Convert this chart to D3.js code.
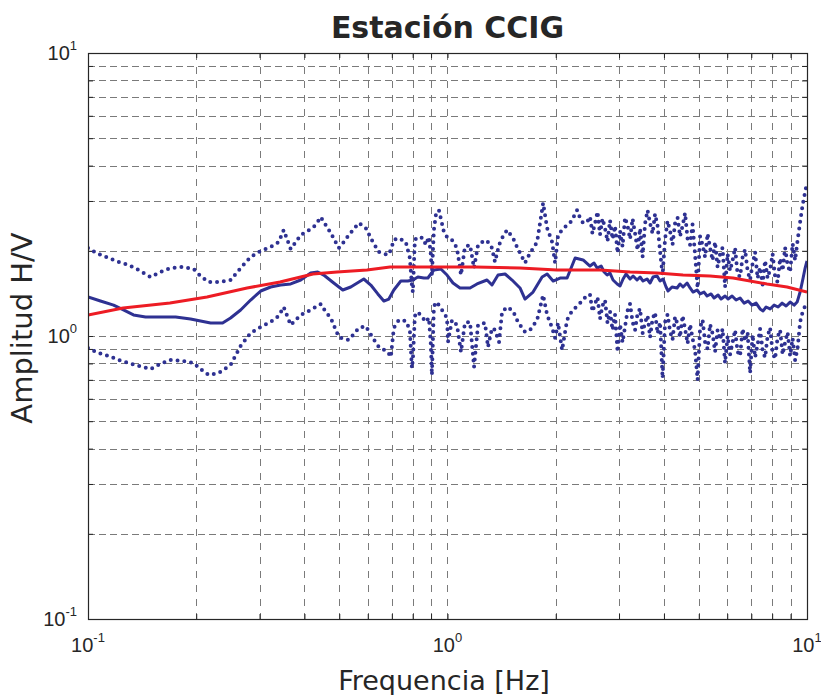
<!DOCTYPE html>
<html>
<head>
<meta charset="utf-8">
<script src="https://cdn.jsdelivr.net/npm/d3@7/dist/d3.min.js"></script>
<style>
  html, body { margin: 0; padding: 0; background: #fff; }
  svg { display: block; }
</style>
</head>
<body>
<svg id="chart" width="821" height="695"></svg>
<script>
// ---- H/V spectral ratio, station CCIG ----
// Mean H/V curve
const meanFreq = [
  0.1, 0.1083, 0.1178, 0.1255, 0.1338, 0.1446, 0.1591, 0.1753, 0.1929, 0.2056,
  0.2193, 0.2368, 0.2492, 0.2658, 0.2834, 0.3022, 0.3222, 0.3435, 0.3663, 0.3906,
  0.4164, 0.4356, 0.4526, 0.4826, 0.5113, 0.5382, 0.585, 0.6118, 0.64, 0.6651,
  0.6868, 0.7091, 0.7416, 0.7758, 0.801, 0.8271, 0.8595, 0.882, 0.9165, 0.9585,
  0.9968, 1.0358, 1.0831, 1.1552, 1.2081, 1.2879, 1.3297, 1.3824, 1.4459, 1.5119,
  1.5911, 1.6429, 1.7298, 1.833, 1.8929, 1.967, 2.0564, 2.1511, 2.2648, 2.3834,
  2.491, 2.556, 2.608, 2.675, 2.727, 2.78, 2.832, 2.887, 2.965, 3.02,
  3.079, 3.138, 3.22, 3.283, 3.367, 3.433, 3.499, 3.59, 3.66, 3.731,
  3.828, 3.902, 3.978, 4.055, 4.107, 4.213, 4.351, 4.435, 4.521, 4.639,
  4.729, 4.82, 4.946, 5.042, 5.172, 5.273, 5.409, 5.515, 5.658, 5.768,
  5.917, 6.032, 6.189, 6.349, 6.514, 6.683, 6.857, 7.035, 7.218, 7.405,
  7.549, 7.695, 7.895, 8.1, 8.31, 8.527, 8.748, 8.975, 9.208, 9.387,
  9.569, 9.754, 9.88, 10
];
const meanAmp = [
  1.374, 1.329, 1.286, 1.236, 1.187, 1.168, 1.168, 1.168, 1.149, 1.130,
  1.112, 1.112, 1.158, 1.236, 1.340, 1.442, 1.490, 1.514, 1.527, 1.577,
  1.669, 1.683, 1.642, 1.539, 1.454, 1.490, 1.590, 1.514, 1.408, 1.329,
  1.351, 1.454, 1.564, 1.564, 1.577, 1.616, 1.603, 1.603, 1.711, 1.725,
  1.642, 1.539, 1.478, 1.478, 1.527, 1.577, 1.514, 1.642, 1.656, 1.577,
  1.478, 1.351, 1.430, 1.616, 1.656, 1.564, 1.603, 1.603, 1.886, 1.856,
  1.767, 1.811, 1.738, 1.767, 1.683, 1.642, 1.669, 1.577, 1.527, 1.502,
  1.590, 1.656, 1.590, 1.629, 1.577, 1.616, 1.564, 1.590, 1.539, 1.616,
  1.629, 1.564, 1.590, 1.490, 1.442, 1.490, 1.478, 1.527, 1.490, 1.539,
  1.478, 1.430, 1.454, 1.408, 1.430, 1.385, 1.408, 1.362, 1.396, 1.351,
  1.385, 1.351, 1.385, 1.340, 1.362, 1.307, 1.329, 1.286, 1.307, 1.246,
  1.226, 1.266, 1.246, 1.286, 1.266, 1.307, 1.276, 1.318, 1.286, 1.318,
  1.430, 1.603, 1.738, 1.841
];

// Mean + / - one standard deviation, sampled on a common frequency list
const bandFreq = [
  0.1, 0.1069, 0.1141, 0.1216, 0.1296, 0.1382, 0.1493, 0.1591, 0.1697, 0.1833,
  0.1967, 0.2056, 0.2165, 0.2308, 0.2492, 0.2658, 0.2834, 0.3022, 0.3222, 0.3392,
  0.3502, 0.3663, 0.3906, 0.4164, 0.4299, 0.444, 0.4585, 0.4734, 0.4984, 0.5146,
  0.5314, 0.5666, 0.5925, 0.6198, 0.6442, 0.6824, 0.6956, 0.7091, 0.7322, 0.7657,
  0.7858, 0.796, 0.801, 0.8114, 0.8271, 0.854, 0.8705, 0.8876, 0.899, 0.9049,
  0.9165, 0.9282, 0.9464, 0.9772, 0.9968, 1.0032, 1.0292, 1.0626, 1.0902, 1.1183,
  1.1552, 1.1853, 1.2159, 1.2715, 1.2961, 1.3297, 1.3554, 1.3912, 1.4182, 1.4643,
  1.5216, 1.561, 1.5911, 1.6429, 1.6967, 1.7753, 1.8448, 1.8929, 1.9545, 1.9922,
  2.0305, 2.0831, 2.1511, 2.1925, 2.2353, 2.2937, 2.3378, 2.3834, 2.4452,
  2.491, 2.531, 2.572, 2.614, 2.656, 2.699, 2.743, 2.787, 2.832, 2.878,
  2.924, 2.972, 3.020, 3.069, 3.118, 3.169, 3.220, 3.272, 3.325, 3.378,
  3.433, 3.488, 3.545, 3.602, 3.660, 3.719, 3.779, 3.840, 3.902, 3.965,
  4.029, 4.094, 4.160, 4.227, 4.295, 4.365, 4.435, 4.507, 4.580, 4.654,
  4.729, 4.805, 4.883, 4.962, 5.042, 5.123, 5.206, 5.290, 5.375, 5.462,
  5.550, 5.640, 5.731, 5.823, 5.917, 6.013, 6.110, 6.209, 6.309, 6.411,
  6.514, 6.620, 6.726, 6.835, 6.946, 7.058, 7.172, 7.287, 7.405, 7.525,
  7.646, 7.770, 7.895, 8.023, 8.152, 8.284, 8.418, 8.554, 8.692, 8.832,
  8.975, 9.120, 9.267, 9.417, 9.569, 9.723, 9.880, 10.0
];
const upperAmp = [
  2.046, 1.949, 1.886, 1.826, 1.782, 1.711, 1.616, 1.683, 1.738, 1.753,
  1.725, 1.629, 1.551, 1.551, 1.577, 1.738, 1.902, 1.997, 2.063, 2.148,
  2.369, 2.030, 2.274, 2.389, 2.467, 2.634, 2.467, 2.312, 2.046, 2.148,
  2.274, 2.508, 2.407, 2.148, 1.981, 1.933, 2.013, 2.184, 2.219, 2.148,
  1.886, 1.514, 1.430, 2.184, 2.238, 2.219, 2.097, 2.238, 1.933, 1.642,
  2.369, 2.677, 2.788, 2.331, 2.238, 2.238, 2.184, 2.046, 1.642, 2.063,
  2.097, 1.738, 2.097, 2.184, 2.148, 2.046, 1.826, 2.097, 2.219, 2.369,
  2.219, 2.063, 1.965, 1.811, 1.965, 2.148, 2.950, 2.407, 2.148, 1.811,
  2.274, 2.369, 2.467, 2.508, 2.612, 2.788, 2.612, 2.508, 2.528,
  2.642, 2.30, 2.50, 2.75, 2.28, 2.60, 2.40, 2.16, 2.56, 2.20,
  2.45, 1.965, 2.35, 2.07, 2.62, 2.45, 2.20, 2.60, 2.30, 2.01,
  2.40, 1.902, 2.50, 2.78, 2.50, 2.30, 2.70, 2.45, 1.99, 1.642,
  2.20, 2.55, 2.35, 2.10, 2.50, 2.62, 2.25, 2.45, 2.72, 2.20,
  2.10, 2.48, 1.93, 1.478, 2.25, 2.10, 1.90, 2.30, 2.05, 1.85,
  2.15, 1.75, 1.95, 2.05, 1.49, 1.95, 1.70, 1.85, 2.05, 1.65,
  1.62, 1.90, 2.02, 1.70, 1.58, 1.80, 1.98, 1.60, 1.75, 1.52,
  1.85, 1.60, 1.72, 1.95, 1.62, 1.55, 1.88, 1.70, 2.05, 1.78,
  1.68, 2.12, 1.85, 2.184, 2.528, 2.904, 3.228, 3.473
];
const lowerAmp = [
  0.907, 0.871, 0.850, 0.823, 0.803, 0.784, 0.764, 0.797, 0.823, 0.816,
  0.803, 0.764, 0.728, 0.740, 0.790, 0.922, 1.025, 1.076, 1.121, 1.177,
  1.266, 1.094, 1.187, 1.236, 1.266, 1.297, 1.216, 1.158, 0.992, 0.976,
  0.968, 1.067, 1.085, 0.984, 0.915, 0.878, 0.843, 1.067, 1.139, 1.130,
  1.050, 0.771, 0.823, 1.177, 1.216, 1.158, 1.121, 1.158, 0.930, 0.728,
  1.266, 1.318, 1.286, 1.206, 1.158, 0.952, 1.139, 1.094, 0.878, 1.112,
  1.121, 0.778, 1.094, 1.112, 0.915, 1.067, 1.050, 0.952, 1.216, 1.266,
  1.226, 1.139, 1.094, 1.034, 1.050, 1.139, 1.396, 1.187, 1.067, 0.984,
  1.112, 0.892, 1.139, 1.196, 1.236, 1.276, 1.307, 1.340, 1.396,
  1.40, 1.22, 1.30, 1.37, 1.15, 1.28, 1.34, 1.11, 1.22, 1.05,
  1.19, 0.878, 1.10, 0.95, 1.08, 1.23, 1.30, 1.12, 1.05, 1.20,
  1.25, 1.02, 1.12, 1.18, 0.99, 1.15, 1.21, 1.02, 1.12, 0.710,
  1.12, 1.19, 1.04, 0.97, 1.17, 1.10, 0.99, 1.18, 1.06, 0.94,
  1.10, 0.98, 0.89, 0.700, 1.07, 1.14, 0.95, 0.90, 1.10, 1.02,
  0.88, 1.05, 0.97, 1.06, 0.803, 1.00, 0.86, 0.95, 1.05, 0.88,
  0.85, 1.06, 0.96, 1.03, 0.740, 1.01, 0.84, 0.93, 1.06, 0.89,
  0.84, 1.00, 1.07, 0.87, 0.83, 0.99, 1.05, 0.86, 0.95, 1.03,
  0.85, 0.98, 0.82, 0.907, 1.121, 1.216, 1.276, 1.307
];

// Smoothed reference curve
const refFreq = [
  0.1, 0.1252, 0.169, 0.2143, 0.277, 0.342, 0.4225, 0.493, 0.597, 0.692,
  0.894, 1.193, 1.591, 2.016, 2.656, 3.22, 3.826, 4.52, 5.37, 6.23,
  7.74, 8.80, 10
];
const refAmp = [
  1.186, 1.256, 1.308, 1.373, 1.478, 1.551, 1.656, 1.683, 1.711, 1.753,
  1.753, 1.753, 1.739, 1.711, 1.711, 1.683, 1.670, 1.643, 1.630, 1.603,
  1.527, 1.490, 1.430
];

const freqDomain = [0.1, 10];
const ampDomain = [0.1, 10];
const labelledDecades = [0.1, 1, 10];

const titleText = "Estación CCIG";
const xTitle = "Frequencia [Hz]";
const yTitle = "Amplitud H/V";

// ---- layout ----
const plot = { left: 88, right: 807, top: 53, bottom: 619 };
const ink = "#262626";
const blue = "#2e3192";
const red = "#ed1c24";

const svg = d3.select("#chart");

const x = d3.scaleLog().domain(freqDomain).range([plot.left, plot.right]);
const y = d3.scaleLog().domain(ampDomain).range([plot.bottom, plot.top]);

const xTicks = x.ticks();
const yTicks = y.ticks();

// clip region for the curves
svg.append("defs").append("clipPath").attr("id", "plotClip")
  .append("rect")
  .attr("x", plot.left).attr("y", plot.top)
  .attr("width", plot.right - plot.left).attr("height", plot.bottom - plot.top);

// ---- dashed grid at every decade subdivision ----
const grid = svg.append("g").attr("class", "grid")
  .attr("stroke", "#7a7a7a").attr("stroke-width", 1).attr("fill", "none");

grid.selectAll("line.v")
  .data(xTicks.filter(t => t > freqDomain[0] && t < freqDomain[1]))
  .join("line").attr("class", "v")
  .attr("x1", d => Math.round(x(d)) + 0.5).attr("x2", d => Math.round(x(d)) + 0.5)
  .attr("y1", plot.top).attr("y2", plot.bottom)
  .attr("stroke-dasharray", "7,7");

grid.selectAll("line.h")
  .data(yTicks.filter(t => t > ampDomain[0] && t < ampDomain[1]))
  .join("line").attr("class", "h")
  .attr("y1", d => Math.round(y(d)) + 0.5).attr("y2", d => Math.round(y(d)) + 0.5)
  .attr("x1", plot.left).attr("x2", plot.right)
  .attr("stroke-dasharray", "7,4");

// ---- axes: inward ticks on all four sides ----
const noLabel = () => "";

function styleAxis(g) {
  g.select(".domain").remove();
  g.selectAll(".tick line").attr("stroke", ink).attr("stroke-width", 1);
  g.selectAll(".tick text").remove();
}

svg.append("g").attr("transform", `translate(0,${plot.bottom})`)
  .call(d3.axisBottom(x).tickValues(xTicks).tickSizeInner(-5).tickSizeOuter(0).tickFormat(noLabel))
  .call(styleAxis);
svg.append("g").attr("transform", `translate(0,${plot.top})`)
  .call(d3.axisTop(x).tickValues(xTicks).tickSizeInner(-5).tickSizeOuter(0).tickFormat(noLabel))
  .call(styleAxis);
svg.append("g").attr("transform", `translate(${plot.left},0)`)
  .call(d3.axisLeft(y).tickValues(yTicks).tickSizeInner(-5).tickSizeOuter(0).tickFormat(noLabel))
  .call(styleAxis);
svg.append("g").attr("transform", `translate(${plot.right},0)`)
  .call(d3.axisRight(y).tickValues(yTicks).tickSizeInner(-5).tickSizeOuter(0).tickFormat(noLabel))
  .call(styleAxis);

// ---- curves ----
const curves = svg.append("g").attr("clip-path", "url(#plotClip)").attr("fill", "none");

const line = d3.line().x(d => x(d[0])).y(d => y(d[1]));
const zip = (a, b) => a.map((v, i) => [v, b[i]]);

// dotted +/- std curves
[upperAmp, lowerAmp].forEach(amp => {
  curves.append("path")
    .datum(zip(bandFreq, amp))
    .attr("d", line)
    .attr("stroke", blue)
    .attr("stroke-width", 4)
    .attr("stroke-linecap", "round")
    .attr("stroke-linejoin", "round")
    .attr("stroke-dasharray", "0,6.8");
});

// mean curve
curves.append("path")
  .datum(zip(meanFreq, meanAmp))
  .attr("d", line)
  .attr("stroke", blue)
  .attr("stroke-width", 3)
  .attr("stroke-linejoin", "round");

// reference curve
curves.append("path")
  .datum(zip(refFreq, refAmp))
  .attr("d", line)
  .attr("stroke", red)
  .attr("stroke-width", 3)
  .attr("stroke-linejoin", "round");

// ---- box ----
svg.append("rect")
  .attr("x", plot.left + 0.5).attr("y", plot.top + 0.5)
  .attr("width", plot.right - plot.left).attr("height", plot.bottom - plot.top)
  .attr("fill", "none").attr("stroke", ink).attr("stroke-width", 1.2);

// ---- decade labels written as 10 with a raised exponent ----
function powerLabel(sel, v) {
  sel.append("tspan").text("10");
  sel.append("tspan").attr("dy", -10).attr("font-size", 13).text(String(Math.round(Math.log10(v))));
}

const tickFont = "'Liberation Sans', Arial, Helvetica, sans-serif";

svg.append("g").selectAll("text")
  .data(labelledDecades)
  .join("text")
  .attr("x", d => x(d))
  .attr("y", 652)
  .attr("text-anchor", "middle")
  .attr("font-family", tickFont).attr("font-size", 20).attr("fill", ink)
  .each(function (d) { powerLabel(d3.select(this), d); });

svg.append("g").selectAll("text")
  .data(labelledDecades)
  .join("text")
  .attr("x", 77)
  .attr("y", d => y(d) + 7)
  .attr("text-anchor", "end")
  .attr("font-family", tickFont).attr("font-size", 20).attr("fill", ink)
  .each(function (d) { powerLabel(d3.select(this), d); });

// ---- titles ----
const textFont = "'DejaVu Sans', Verdana, sans-serif";

svg.append("text")
  .attr("x", (plot.left + plot.right) / 2).attr("y", 38)
  .attr("text-anchor", "middle")
  .attr("font-family", textFont).attr("font-weight", "bold").attr("font-size", 30)
  .attr("fill", ink)
  .text(titleText);

svg.append("text")
  .attr("x", 444).attr("y", 690)
  .attr("text-anchor", "middle")
  .attr("font-family", textFont).attr("font-size", 27)
  .attr("fill", ink)
  .text(xTitle);

svg.append("text")
  .attr("transform", "translate(32,328) rotate(-90)")
  .attr("text-anchor", "middle")
  .attr("font-family", textFont).attr("font-size", 29)
  .attr("fill", ink)
  .text(yTitle);
</script>
</body>
</html>
